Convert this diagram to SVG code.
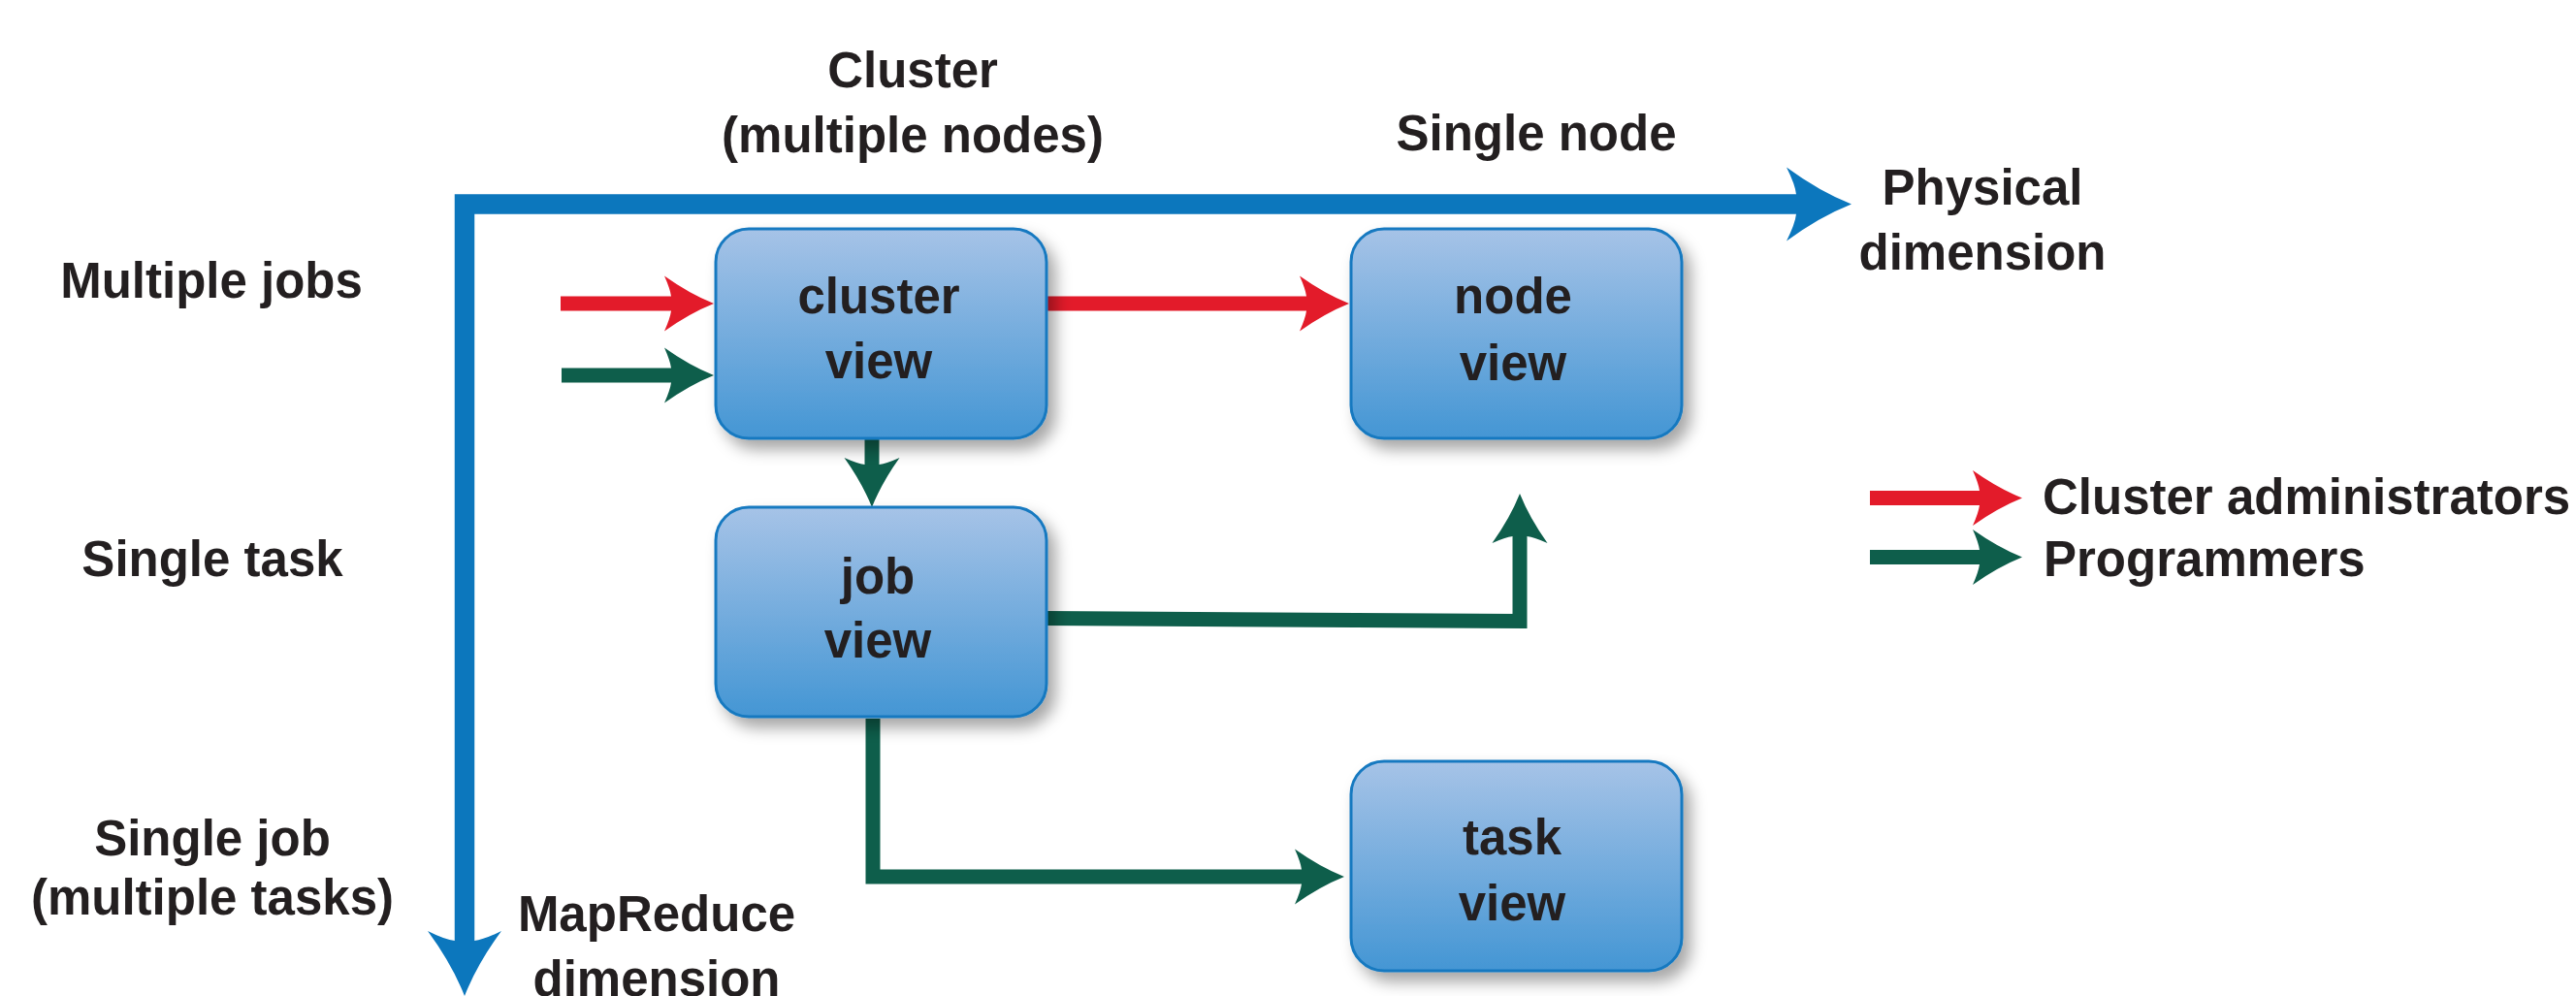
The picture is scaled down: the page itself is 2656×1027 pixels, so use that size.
<svg xmlns="http://www.w3.org/2000/svg" width="2656" height="1027" viewBox="0 0 2656 1027">
<defs>
<style>
.t{font-family:"Liberation Sans",Arial,Helvetica,sans-serif;font-weight:bold;font-size:51px;fill:#231f20}
.c{text-anchor:middle}
.box{fill:url(#g);stroke:#1679c0;stroke-width:3;filter:url(#sh)}
.red{fill:none;stroke:#e31b2a;stroke-width:15}
.grn{fill:none;stroke:#0e5e4b;stroke-width:15}
.blu{fill:none;stroke:#0c77bd;stroke-width:20.5;stroke-linejoin:miter}
</style>
<linearGradient id="g" x1="0" y1="0" x2="0" y2="1">
<stop offset="0" stop-color="#a6c3e7"/>
<stop offset="1" stop-color="#4496d4"/>
</linearGradient>
<filter id="sh" x="-20%" y="-20%" width="150%" height="150%">
<feDropShadow dx="8" dy="10" stdDeviation="8" flood-color="#000" flood-opacity="0.35"/>
</filter>
<marker id="hr" markerUnits="userSpaceOnUse" orient="auto" refX="0" refY="0" markerWidth="1" markerHeight="1" overflow="visible">
<path d="M44,0 Q19,-10 -7,-28.5 Q-1,-15 0,-7.5 L0,7.5 Q-1,15 -7,28.5 Q19,10 44,0 Z" fill="#e31b2a"/>
</marker>
<marker id="hg" markerUnits="userSpaceOnUse" orient="auto" refX="0" refY="0" markerWidth="1" markerHeight="1" overflow="visible">
<path d="M44,0 Q19,-10 -7,-28.5 Q-1,-15 0,-7.5 L0,7.5 Q-1,15 -7,28.5 Q19,10 44,0 Z" fill="#0e5e4b"/>
</marker>
<marker id="hb" markerUnits="userSpaceOnUse" orient="auto-start-reverse" refX="0" refY="0" markerWidth="1" markerHeight="1" overflow="visible">
<path d="M57,0 Q24,-13 -10,-38 Q-1,-20 0,-10 L0,10 Q-1,20 -10,38 Q24,13 57,0 Z" fill="#0c77bd"/>
</marker>
</defs>
<rect width="2656" height="1027" fill="#fff"/>

<g id="connectors">
<path class="blu" d="M479,970 L479,210.5 L1852,210.5" marker-start="url(#hb)" marker-end="url(#hb)"/>
<path class="red" d="M578,313 L692,313" marker-end="url(#hr)"/>
<path class="grn" d="M579,387 L692,387" marker-end="url(#hg)"/>
<path class="red" d="M1075,313 L1347,313" marker-end="url(#hr)"/>
<path class="grn" d="M899,452 L899,479" marker-end="url(#hg)"/>
<path class="grn" d="M1076,637.5 L1567,640.5 L1567,553" marker-end="url(#hg)"/>
<path class="grn" d="M900,741 L900,904 L1342,904" marker-end="url(#hg)"/>
<path class="red" d="M1928,513.5 L2041,513.5" marker-end="url(#hr)"/>
<path class="grn" d="M1928,574.5 L2041,574.5" marker-end="url(#hg)"/>
</g>

<g id="cluster-view">
<rect class="box" x="738" y="236" width="341" height="216" rx="34"/>
<text class="t c" x="906" y="323">cluster</text>
<text class="t c" x="906" y="390">view</text>
</g>
<g id="node-view">
<rect class="box" x="1393" y="236" width="341" height="216" rx="34"/>
<text class="t c" x="1560" y="323">node</text>
<text class="t c" x="1560" y="392">view</text>
</g>
<g id="job-view">
<rect class="box" x="738" y="523" width="341" height="216" rx="34"/>
<text class="t c" x="905" y="612">job</text>
<text class="t c" x="905" y="678">view</text>
</g>
<g id="task-view">
<rect class="box" x="1393" y="785" width="341" height="216" rx="34"/>
<text class="t c" x="1559" y="881">task</text>
<text class="t c" x="1559" y="949">view</text>
</g>

<g id="labels">
<text class="t c" x="941" y="90">Cluster</text>
<text class="t c" x="941" y="157">(multiple nodes)</text>
<text class="t c" x="1584" y="155">Single node</text>
<text class="t c" x="2044" y="211">Physical</text>
<text class="t c" x="2044" y="278">dimension</text>
<text class="t c" x="218" y="307">Multiple jobs</text>
<text class="t c" x="219" y="594">Single task</text>
<text class="t c" x="219" y="882">Single job</text>
<text class="t c" x="219" y="943">(multiple tasks)</text>
<text class="t c" x="677" y="960">MapReduce</text>
<text class="t c" x="677" y="1027">dimension</text>
</g>

<g id="legend">
<text class="t" x="2106" y="530">Cluster administrators</text>
<text class="t" x="2107" y="594">Programmers</text>
</g>
</svg>
